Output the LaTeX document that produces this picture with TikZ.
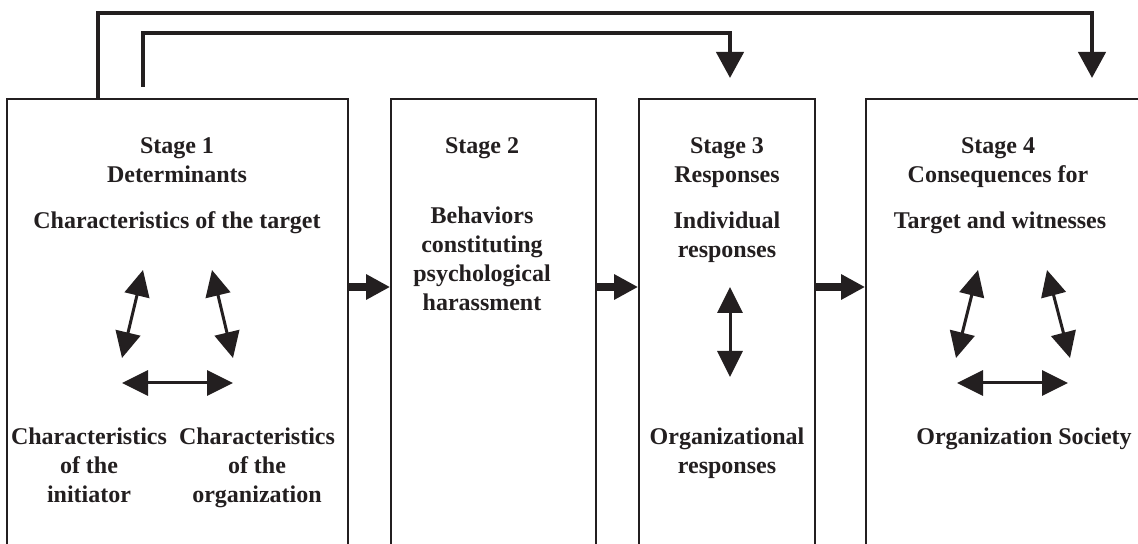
\documentclass[tikz,border=0pt]{standalone}
\usepackage{fontspec}
\setmainfont{Liberation Serif}
\usetikzlibrary{arrows.meta}
\definecolor{ink}{HTML}{231F20}

\begin{document}
\begin{tikzpicture}[x=0.5pt,y=-0.5pt,
  every node/.style={font=\fontsize{12pt}{14.5pt}\selectfont\bfseries, text=ink, align=center},
  stagebox/.style={draw=ink, line width=0.9pt, minimum height=260.5pt, inner sep=0pt},
  bigarrow/.style={draw=ink, line width=4pt, -{Triangle[width=12pt,length=12pt]}},
  looparrow/.style={draw=ink, line width=2.2pt, -{Triangle[width=13.5pt,length=13pt]}},
  twoway/.style={draw=ink, line width=1.5pt, {Triangle[width=12.5pt,length=13pt]}-{Triangle[width=12.5pt,length=13pt]}}]
  \clip (0,0) rectangle (1138,544);

  \node[stagebox, minimum width=170.5pt] (ST1) at (177.5,359.5) {};
  \node[stagebox, minimum width=102.5pt] (ST2) at (493.5,359.5) {};
  \node[stagebox, minimum width=88pt] (ST3) at (727,359.5) {};
  \node[stagebox, minimum width=167pt] (ST4) at (1033,359.5) {};

  % base = baseline of the last line
  \node[anchor=base] (DET) at (177,183) {Stage 1\\Determinants};
  \node[anchor=base] (TGT) at (177,229) {Characteristics of the target};
  \node[anchor=base] (INI) at (89,502) {Characteristics\\of the\\initiator};
  \node[anchor=base] (ORG) at (257,502) {Characteristics\\of the\\organization};

  \node[anchor=base] (BEH) at (482,154) {Stage 2};
  \node[anchor=base] (HAR) at (482,311) {Behaviors\\constituting\\psychological\\harassment};

  \node[anchor=base] (RES) at (727,183) {Stage 3\\Responses};
  \node[anchor=base] (IND) at (727,258) {Individual\\responses};
  \node[anchor=base] (ORR) at (727,473) {Organizational\\responses};

  \node[anchor=base] (CON) at (998,183) {Stage 4\\Consequences for};
  \node[anchor=base] (WIT) at (1000,229) {Target and witnesses};
  \node[anchor=base] (SOC) at (1024,444) {Organization Society};

  % arrows from stage to stage
  \coordinate (MID) at (0,287);
  \draw[bigarrow] (ST1.east |- MID) -- (ST2.west |- MID);
  \draw[bigarrow] (ST2.east |- MID) -- (ST3.west |- MID);
  \draw[bigarrow] (ST3.east |- MID) -- (ST4.west |- MID);

  % feedback lines on top
  \coordinate (HIA) at (98,13);
  \coordinate (HIB) at (1092,13);
  \coordinate (HIEND) at (1092,78);
  \coordinate (LOSTART) at (143,87);
  \coordinate (LOA) at (143,33);
  \coordinate (LOB) at (730,33);
  \coordinate (LOEND) at (730,78);
  \draw[looparrow] (ST1.north -| HIA) -- (HIA) -- (HIB) -- (HIEND);
  \draw[looparrow] (LOSTART) -- (LOA) -- (LOB) -- (LOEND);

  % two-way arrows inside the stages
  \draw[twoway] (143,270) -- (122,358);
  \draw[twoway] (212,270) -- (233,358);
  \draw[twoway] (122,383) -- (233,383);
  \draw[twoway] (730,287) -- (730,377);
  \draw[twoway] (978,270) -- (956,358);
  \draw[twoway] (1047,270) -- (1070,358);
  \draw[twoway] (957,383) -- (1068,383);
\end{tikzpicture}
\end{document}
